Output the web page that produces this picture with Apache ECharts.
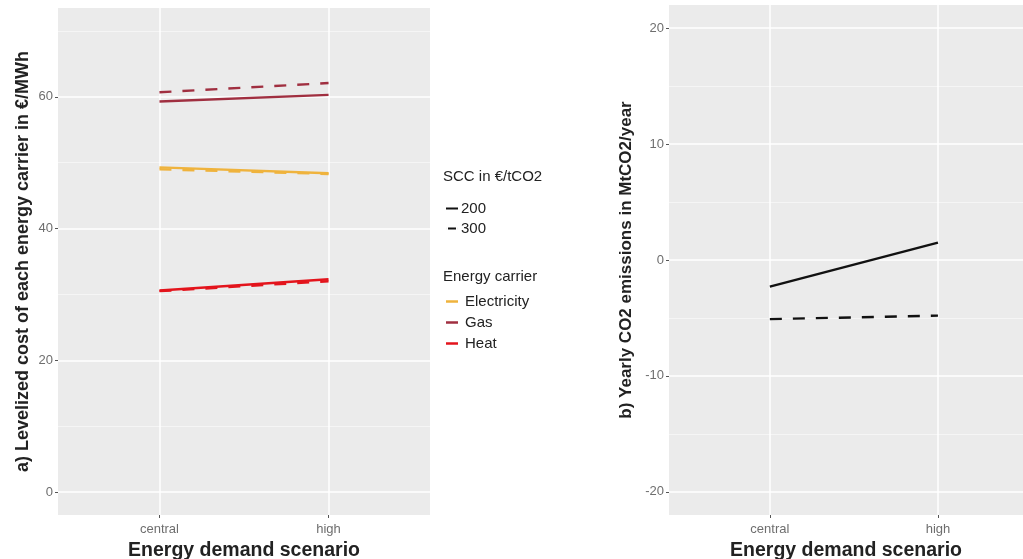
<!DOCTYPE html>
<html>
<head>
<meta charset="utf-8">
<script src="https://cdn.jsdelivr.net/npm/echarts@6/dist/echarts.min.js"></script>
<style>
  html, body { margin: 0; padding: 0; background: #fff; }
  #chart { width: 1023px; height: 559px; }
</style>
</head>
<body>
<div id="chart"></div>
<script>
// x axis categories
var scenarios = ['central', 'high'];
var sccLevels = ['200', '300'];
var carriers = ['Electricity', 'Gas', 'Heat'];

// a) levelized cost, €/MWh
var elec200 = [49.3, 48.4];
var elec300 = [49.0, 48.3];
var gas200 = [59.3, 60.3];
var gas300 = [60.7, 62.1];
var heat200 = [30.6, 32.3];
var heat300 = [30.5, 32.0];

// b) yearly CO2 emissions, MtCO2/year
var co2_200 = [-2.3, 1.5];
var co2_300 = [-5.1, -4.8];

// tick labels
var leftTicks = [0, 20, 40, 60];
var leftMinor = [10, 30, 50, 70];
var rightTicks = [-20, -10, 0, 10, 20];
var rightMinor = [-15, -5, 5, 15];
var xTicks = [1, 2];

var colors = { Electricity: '#efb33d', Gas: '#a02f40', Heat: '#e3141c' };
var font = 'Liberation Sans, Arial, sans-serif';
var dash = [12, 11];

var chart = echarts.init(document.getElementById('chart'));

// scenario index -> x position (1, 2)
function pts(vals) {
  return vals.map(function (v, i) { return [i + 1, v]; });
}

function line(name, vals, color, dashed, gi) {
  return {
    name: name,
    type: 'line',
    xAxisIndex: gi,
    yAxisIndex: gi * 2,
    data: pts(vals),
    showSymbol: false,
    symbol: 'none',
    silent: true,
    lineStyle: { color: color, width: 2.4, type: dashed ? dash : 'solid' },
    z: 3
  };
}

// empty series only used by the legends
function dummy(name, color, dashed) {
  return {
    name: name, type: 'line', data: [], xAxisIndex: 0, yAxisIndex: 0,
    itemStyle: { color: color },
    lineStyle: { color: color, type: dashed ? dash : 'solid' }
  };
}

function xAxis(gi, max) {
  return {
    type: 'value',
    gridIndex: gi,
    min: 0.4,
    max: max,
    axisLine: { show: false, onZero: false },
    axisTick: { show: true, customValues: xTicks, length: 3, lineStyle: { color: '#555' } },
    axisLabel: {
      customValues: xTicks,
      formatter: function (v) { return scenarios[Math.round(v) - 1] || ''; },
      color: '#6e6e6e', fontSize: 13, fontFamily: font, margin: 8
    },
    splitLine: { show: true, lineStyle: { color: '#ffffff', width: 1.5 } },
    name: 'Energy demand scenario',
    nameLocation: 'middle',
    nameGap: 24,
    nameTextStyle: { fontSize: 19.5, fontWeight: 'bold', color: '#222', fontFamily: font }
  };
}

function yMain(gi, min, max, ticks, title, gap, size) {
  return {
    type: 'value',
    gridIndex: gi,
    position: 'left',
    min: min,
    max: max,
    axisLine: { show: false },
    axisTick: { show: true, customValues: ticks, length: 3, lineStyle: { color: '#555' } },
    axisLabel: { customValues: ticks, color: '#6e6e6e', fontSize: 13, fontFamily: font, margin: 5 },
    splitLine: { show: true, lineStyle: { color: '#ffffff', width: 1.5 } },
    name: title,
    nameLocation: 'middle',
    nameGap: gap,
    nameTextStyle: { fontSize: size, fontWeight: 'bold', color: '#222', fontFamily: font }
  };
}

function yMinor(gi, min, max, ticks) {
  return {
    type: 'value',
    gridIndex: gi,
    position: 'right',
    min: min,
    max: max,
    axisLine: { show: false },
    axisTick: { show: false, customValues: ticks },
    axisLabel: { show: false, customValues: ticks },
    splitLine: { show: true, lineStyle: { color: '#f7f7f7', width: 0.8 } }
  };
}

var option = {
  animation: false,
  backgroundColor: '#ffffff',
  textStyle: { fontFamily: font },
  grid: [
    { left: 58, width: 372, top: 8, height: 507, outerBoundsMode: 'none',
      show: true, backgroundColor: '#ebebeb', borderWidth: 0 },
    // right panel runs off the picture edge
    { left: 669, right: 0, top: 5, height: 510, outerBoundsMode: 'none',
      show: true, backgroundColor: '#ebebeb', borderWidth: 0 }
  ],
  xAxis: [xAxis(0, 2.6), xAxis(1, 2.506)],
  yAxis: [
    yMain(0, -3.5, 73.5, leftTicks, 'a) Levelized cost of each energy carrier in €/MWh', 26, 18),
    yMinor(0, -3.5, 73.5, leftMinor),
    yMain(1, -22, 22, rightTicks, 'b) Yearly CO2 emissions in MtCO2/year', 34, 17),
    yMinor(1, -22, 22, rightMinor)
  ],
  title: [
    { text: 'SCC in €/tCO2', left: 443, top: 169, padding: 0,
      textStyle: { fontSize: 15, fontWeight: 'normal', color: '#222', fontFamily: font } },
    { text: 'Energy carrier', left: 443, top: 269, padding: 0,
      textStyle: { fontSize: 15, fontWeight: 'normal', color: '#222', fontFamily: font } }
  ],
  legend: [
    {
      orient: 'vertical', left: 446, top: 201, padding: 0, itemGap: 5,
      itemWidth: 12, itemHeight: 14, selectedMode: false,
      textStyle: { fontSize: 15, color: '#222', fontFamily: font, padding: [0, 0, 0, -2] },
      data: [
        { name: sccLevels[0], icon: 'path://M0,0H12V2H0Z', itemStyle: { color: '#111' } },
        { name: sccLevels[1], icon: 'path://M0,0H0.05V2H0Z M2,0H10V2H2Z M11.95,0H12V2H11.95Z', itemStyle: { color: '#111' } }
      ]
    },
    {
      orient: 'vertical', left: 446, top: 294, padding: 0, itemGap: 6,
      itemWidth: 12, itemHeight: 14, selectedMode: false,
      textStyle: { fontSize: 15, color: '#222', fontFamily: font, padding: [0, 0, 0, 2] },
      data: carriers.map(function (c) {
        return { name: c, icon: 'path://M0,0H12V2.5H0Z', itemStyle: { color: colors[c] } };
      })
    }
  ],
  series: [
    line('Electricity 200', elec200, colors.Electricity, false, 0),
    line('Electricity 300', elec300, colors.Electricity, true, 0),
    line('Gas 200', gas200, colors.Gas, false, 0),
    line('Gas 300', gas300, colors.Gas, true, 0),
    line('Heat 200', heat200, colors.Heat, false, 0),
    line('Heat 300', heat300, colors.Heat, true, 0),
    line('CO2 200', co2_200, '#111111', false, 1),
    line('CO2 300', co2_300, '#111111', true, 1),
    dummy(sccLevels[0], '#111', false),
    dummy(sccLevels[1], '#111', true),
    dummy('Electricity', colors.Electricity, false),
    dummy('Gas', colors.Gas, false),
    dummy('Heat', colors.Heat, false)
  ]
};

chart.setOption(option);
</script>
</body>
</html>
